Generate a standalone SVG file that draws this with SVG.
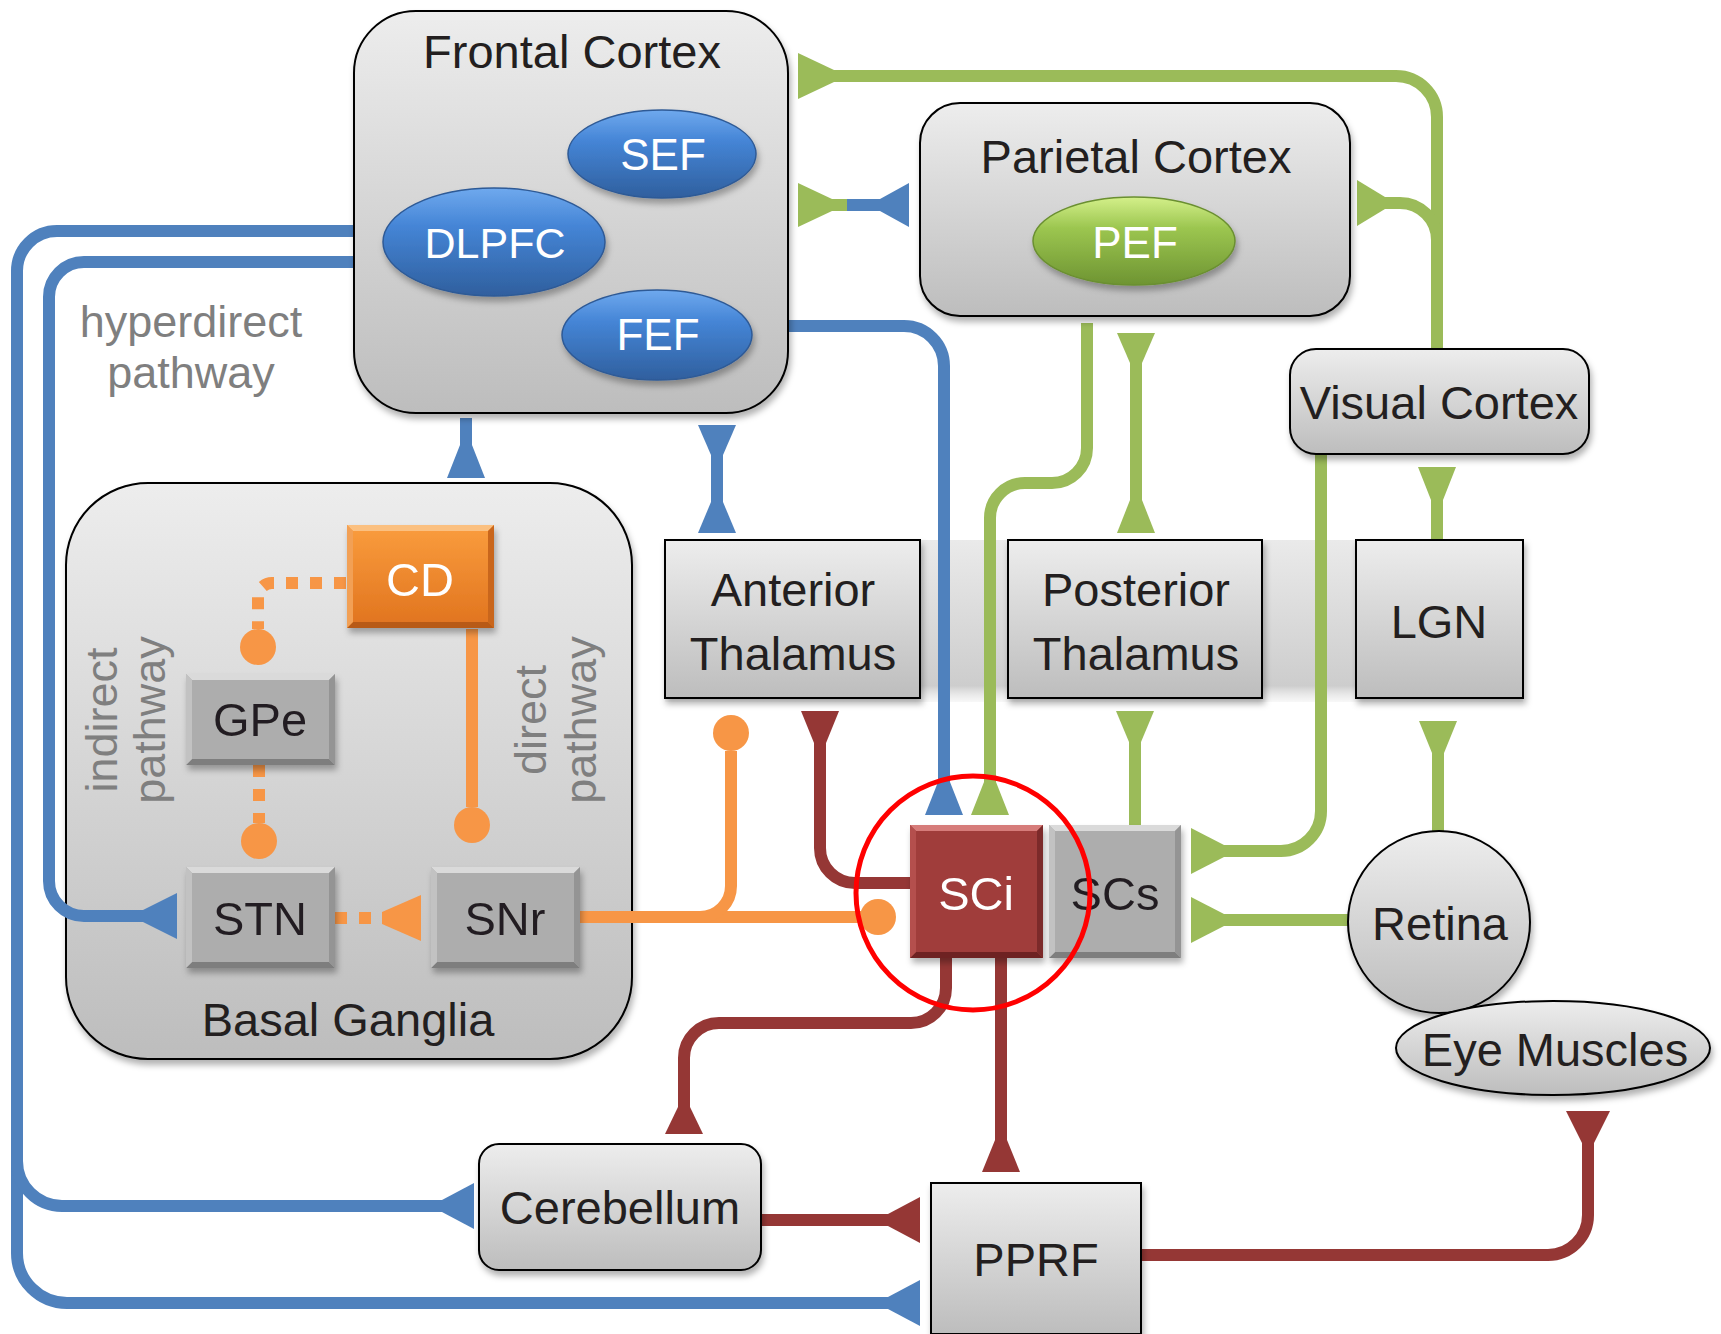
<svg xmlns="http://www.w3.org/2000/svg" width="1721" height="1334" viewBox="0 0 1721 1334">
<defs>
  <style>
    .t{font-family:"Liberation Sans",Arial,sans-serif;font-size:47px;fill:#231F20;text-anchor:middle}
    .w{fill:#FFFFFF}
    .lbl{font-family:"Liberation Sans",Arial,sans-serif;font-size:45px;fill:#7F7F7F;text-anchor:middle}
    .box{fill:url(#gGray);stroke:#000;stroke-width:2}
    .c{fill:none;stroke-width:12}
    .bl{stroke:#4F81BD}.blf{fill:#4F81BD}
    .gr{stroke:#9BBB59}.grf{fill:#9BBB59}
    .rd{stroke:#953735}.rdf{fill:#953735}
    .or{stroke:#F79646}.orf{fill:#F79646}
    .dot{stroke-dasharray:12 12}
    .bvm{fill:#ADADAD}.bvt{fill:#DADADA}.bvb{fill:#7E7E7E}.bvl{fill:#C2C2C2}.bvr{fill:#949494}
  </style>
  <linearGradient id="gGray" x1="0" y1="0" x2="0" y2="1">
    <stop offset="0" stop-color="#EDEDED"/>
    <stop offset="1" stop-color="#BDBDBD"/>
  </linearGradient>
  <linearGradient id="gBand" x1="0" y1="0" x2="0" y2="1">
    <stop offset="0" stop-color="#EAEAEA"/>
    <stop offset="0.9" stop-color="#CDCDCD"/>
    <stop offset="1" stop-color="#E6E6E6" stop-opacity="0.3"/>
  </linearGradient>
  <linearGradient id="gBlue" x1="0" y1="0" x2="0" y2="1">
    <stop offset="0" stop-color="#6FA9EE"/>
    <stop offset="0.35" stop-color="#4585D6"/>
    <stop offset="1" stop-color="#2F5F9E"/>
  </linearGradient>
  <linearGradient id="gGreen" x1="0" y1="0" x2="0" y2="1">
    <stop offset="0" stop-color="#D4F08A"/>
    <stop offset="0.35" stop-color="#9CC650"/>
    <stop offset="1" stop-color="#6E9432"/>
  </linearGradient>
  <linearGradient id="gOrange" x1="0" y1="0" x2="0" y2="1">
    <stop offset="0" stop-color="#FA9D3E"/>
    <stop offset="1" stop-color="#E0731E"/>
  </linearGradient>
  <filter id="sh" x="-10%" y="-10%" width="125%" height="130%">
    <feDropShadow dx="2" dy="5" stdDeviation="3" flood-color="#000" flood-opacity="0.3"/>
  </filter>
</defs>
<rect width="1721" height="1334" fill="#FFFFFF"/>

<!-- containers drawn behind connectors -->
<g id="basal-ganglia">
  <rect x="66" y="483" width="566" height="576" rx="82" class="box" filter="url(#sh)"/>
  <text x="348" y="1036" class="t">Basal Ganglia</text>
  <text transform="translate(117,720) rotate(-90)" class="lbl">indirect</text>
  <text transform="translate(165,720) rotate(-90)" class="lbl">pathway</text>
  <text transform="translate(546,720) rotate(-90)" class="lbl">direct</text>
  <text transform="translate(596,720) rotate(-90)" class="lbl">pathway</text>
</g>
<g id="thalamus-band">
  <rect x="665" y="540" width="858" height="162" fill="url(#gBand)"/>
</g>

<g id="connectors">
  <!-- blue -->
  <path class="c bl" d="M353 231 H57 A40 40 0 0 0 17 271 V1253 A50 50 0 0 0 67 1303 H892"/>
  <polygon class="blf" points="920,1280 920,1326 888,1309 888,1297"/>
  <path class="c bl" d="M17 1120 V1161 A45 45 0 0 0 62 1206 H446"/>
  <polygon class="blf" points="474,1183 474,1229 442,1212 442,1200"/>
  <path class="c bl" d="M353 262 H84 A35 35 0 0 0 49 297 V881 A35 35 0 0 0 84 916 H147"/>
  <polygon class="blf" points="177,893 177,939 143,922 143,910"/>
  <path class="c bl" d="M788 326 H904 A40 40 0 0 1 944 366 V784"/>
  <polygon class="blf" points="925,815 963,815 950,782 938,782"/>
  <path class="c bl" d="M466 418 V449"/>
  <polygon class="blf" points="447,478 485,478 472,445 460,445"/>
  <path class="c bl" d="M717 453 V504"/>
  <polygon class="blf" points="698,425 736,425 723,455 711,455"/>
  <polygon class="blf" points="698,533 736,533 723,502 711,502"/>
  <path class="c bl" d="M846 205 H882"/>
  <polygon class="blf" points="909,183 909,227 880,211 880,199"/>
  <!-- green -->
  <path class="c gr" d="M1437 348 V117 A41 41 0 0 0 1396 76 H832"/>
  <polygon class="grf" points="798,53 798,99 834,82 834,70"/>
  <path class="c gr" d="M1437 240 A37 37 0 0 0 1400 203 H1383"/>
  <polygon class="grf" points="1357,180 1357,226 1385,209 1385,197"/>
  <path class="c gr" d="M830 205 H847"/>
  <polygon class="grf" points="798,183 798,227 832,211 832,199"/>
  <path class="c gr" d="M1087 323 V448 A35 35 0 0 1 1052 483 H1025 A35 35 0 0 0 990 518 V784"/>
  <polygon class="grf" points="971,815 1009,815 996,782 984,782"/>
  <path class="c gr" d="M1136 361 V502"/>
  <polygon class="grf" points="1117,333 1155,333 1142,363 1130,363"/>
  <polygon class="grf" points="1117,533 1155,533 1142,500 1130,500"/>
  <path class="c gr" d="M1135 740 V825"/>
  <polygon class="grf" points="1116,711 1154,711 1141,742 1129,742"/>
  <path class="c gr" d="M1437 498 V540"/>
  <polygon class="grf" points="1418,467 1456,467 1443,500 1431,500"/>
  <path class="c gr" d="M1438 751 V831"/>
  <polygon class="grf" points="1419,721 1457,721 1444,753 1432,753"/>
  <path class="c gr" d="M1321 454 V811 A40 40 0 0 1 1281 851 H1220"/>
  <polygon class="grf" points="1191,828 1191,874 1224,857 1224,845"/>
  <path class="c gr" d="M1349 920 H1220"/>
  <polygon class="grf" points="1191,897 1191,943 1224,926 1224,914"/>
  <!-- red -->
  <path class="c rd" d="M910 883 H855 A35 35 0 0 1 820 848 V741"/>
  <polygon class="rdf" points="801,711 839,711 826,743 814,743"/>
  <path class="c rd" d="M946 958 V988 A35 35 0 0 1 911 1023 H719 A35 35 0 0 0 684 1058 V1109"/>
  <polygon class="rdf" points="665,1134 703,1134 690,1107 678,1107"/>
  <path class="c rd" d="M1001 958 V1142"/>
  <polygon class="rdf" points="982,1172 1020,1172 1007,1140 995,1140"/>
  <path class="c rd" d="M761 1220 H890"/>
  <polygon class="rdf" points="920,1197 920,1243 888,1226 888,1214"/>
  <path class="c rd" d="M1141 1255 H1548 A40 40 0 0 0 1588 1215 V1141"/>
  <polygon class="rdf" points="1566,1111 1610,1111 1594,1143 1582,1143"/>
  <!-- orange -->
  <path class="c or dot" d="M346 583 H272 A14 14 0 0 0 258 597 V629"/>
  <circle class="orf" cx="258" cy="647" r="18"/>
  <path class="c or dot" d="M259 765 V823"/>
  <circle class="orf" cx="259" cy="841" r="18"/>
  <path class="c or" d="M472 629 V807"/>
  <circle class="orf" cx="472" cy="825" r="18"/>
  <path class="c or dot" d="M335 918 H384"/>
  <polygon class="orf" points="421,895 421,941 382,924 382,912"/>
  <path class="c or" d="M580 917 H862"/>
  <circle class="orf" cx="878" cy="917" r="18"/>
  <path class="c or" d="M700 917 A31 31 0 0 0 731 886 V751"/>
  <circle class="orf" cx="731" cy="733" r="18"/>
</g>

<g id="frontal-cortex">
  <rect x="354" y="11" width="434" height="402" rx="62" class="box" filter="url(#sh)"/>
  <text x="572" y="68" class="t">Frontal Cortex</text>
</g>
<g id="sef">
  <ellipse cx="662" cy="154" rx="94" ry="44" fill="url(#gBlue)" stroke="#2E5A96" stroke-width="1.5" filter="url(#sh)"/>
  <text x="663" y="170" class="t w" style="font-size:44px">SEF</text>
</g>
<g id="dlpfc">
  <ellipse cx="494" cy="242" rx="111" ry="54" fill="url(#gBlue)" stroke="#2E5A96" stroke-width="1.5" filter="url(#sh)"/>
  <text x="495" y="258" class="t w" style="font-size:43px">DLPFC</text>
</g>
<g id="fef">
  <ellipse cx="657" cy="335" rx="95" ry="45" fill="url(#gBlue)" stroke="#2E5A96" stroke-width="1.5" filter="url(#sh)"/>
  <text x="658" y="350" class="t w" style="font-size:44px">FEF</text>
</g>
<g id="parietal-cortex">
  <rect x="920" y="103" width="430" height="213" rx="40" class="box" filter="url(#sh)"/>
  <text x="1136" y="173" class="t">Parietal Cortex</text>
</g>
<g id="pef">
  <ellipse cx="1134" cy="241" rx="101" ry="44" fill="url(#gGreen)" stroke="#6A8F30" stroke-width="1.5" filter="url(#sh)"/>
  <text x="1135" y="258" class="t w" style="font-size:44px">PEF</text>
</g>
<g id="visual-cortex">
  <rect x="1290" y="349" width="299" height="105" rx="26" class="box" filter="url(#sh)"/>
  <text x="1439" y="419" class="t">Visual Cortex</text>
</g>
<g id="hyperdirect-label">
  <text x="191" y="337" class="lbl">hyperdirect</text>
  <text x="191" y="388" class="lbl">pathway</text>
</g>
<g id="anterior-thalamus">
  <rect x="665" y="540" width="255" height="158" class="box" filter="url(#sh)"/>
  <text x="793" y="606" class="t">Anterior</text>
  <text x="793" y="670" class="t">Thalamus</text>
</g>
<g id="posterior-thalamus">
  <rect x="1008" y="540" width="254" height="158" class="box" filter="url(#sh)"/>
  <text x="1136" y="606" class="t">Posterior</text>
  <text x="1136" y="670" class="t">Thalamus</text>
</g>
<g id="lgn">
  <rect x="1356" y="540" width="167" height="158" class="box" filter="url(#sh)"/>
  <text x="1439" y="638" class="t">LGN</text>
</g>
<g id="cd" filter="url(#sh)">
  <rect x="347" y="525" width="147" height="103" fill="url(#gOrange)"/>
  <polygon points="347,525 494,525 488,531 353,531" fill="#FBC080"/>
  <polygon points="347,628 494,628 488,622 353,622" fill="#B85A12"/>
  <polygon points="347,525 353,531 353,622 347,628" fill="#F2A054"/>
  <polygon points="494,525 488,531 488,622 494,628" fill="#C9661A"/>
  <text x="420" y="596" class="t w">CD</text>
</g>
<g id="gpe" filter="url(#sh)">
  <rect x="186" y="674" width="149" height="91" class="bvm"/>
  <polygon points="186,674 335,674 329,680 192,680" class="bvt"/>
  <polygon points="186,765 335,765 329,759 192,759" class="bvb"/>
  <polygon points="186,674 192,680 192,759 186,765" class="bvl"/>
  <polygon points="335,674 329,680 329,759 335,765" class="bvr"/>
  <text x="260" y="736" class="t">GPe</text>
</g>
<g id="stn" filter="url(#sh)">
  <rect x="186" y="867" width="149" height="101" class="bvm"/>
  <polygon points="186,867 335,867 329,873 192,873" class="bvt"/>
  <polygon points="186,968 335,968 329,962 192,962" class="bvb"/>
  <polygon points="186,867 192,873 192,962 186,968" class="bvl"/>
  <polygon points="335,867 329,873 329,962 335,968" class="bvr"/>
  <text x="260" y="935" class="t">STN</text>
</g>
<g id="snr" filter="url(#sh)">
  <rect x="431" y="867" width="149" height="101" class="bvm"/>
  <polygon points="431,867 580,867 574,873 437,873" class="bvt"/>
  <polygon points="431,968 580,968 574,962 437,962" class="bvb"/>
  <polygon points="431,867 437,873 437,962 431,968" class="bvl"/>
  <polygon points="580,867 574,873 574,962 580,968" class="bvr"/>
  <text x="505" y="935" class="t">SNr</text>
</g>
<g id="sci" filter="url(#sh)">
  <rect x="910" y="825" width="133" height="133" fill="#A03C3A"/>
  <polygon points="910,825 1043,825 1037,831 916,831" fill="#D67C7A"/>
  <polygon points="910,958 1043,958 1037,952 916,952" fill="#6E2422"/>
  <polygon points="910,825 916,831 916,952 910,958" fill="#B4504E"/>
  <polygon points="1043,825 1037,831 1037,952 1043,958" fill="#7C2B29"/>
  <text x="976" y="910" class="t w">SCi</text>
</g>
<g id="scs" filter="url(#sh)">
  <rect x="1049" y="825" width="132" height="133" class="bvm"/>
  <polygon points="1049,825 1181,825 1175,831 1055,831" class="bvt"/>
  <polygon points="1049,958 1181,958 1175,952 1055,952" class="bvb"/>
  <polygon points="1049,825 1055,831 1055,952 1049,958" class="bvl"/>
  <polygon points="1181,825 1175,831 1175,952 1181,958" class="bvr"/>
  <text x="1115" y="910" class="t">SCs</text>
</g>
<g id="retina">
  <circle cx="1439" cy="922" r="91" class="box" filter="url(#sh)"/>
  <text x="1440" y="940" class="t">Retina</text>
</g>
<g id="eye-muscles">
  <ellipse cx="1553" cy="1048" rx="157" ry="47" class="box" filter="url(#sh)"/>
  <text x="1555" y="1066" class="t">Eye Muscles</text>
</g>
<g id="cerebellum">
  <rect x="479" y="1144" width="282" height="126" rx="20" class="box" filter="url(#sh)"/>
  <text x="620" y="1224" class="t">Cerebellum</text>
</g>
<g id="pprf">
  <rect x="931" y="1183" width="210" height="151" class="box" filter="url(#sh)"/>
  <text x="1036" y="1276" class="t">PPRF</text>
</g>
<g id="sc-highlight">
  <circle cx="973" cy="893" r="117" fill="none" stroke="#FF0000" stroke-width="5"/>
</g>
</svg>
